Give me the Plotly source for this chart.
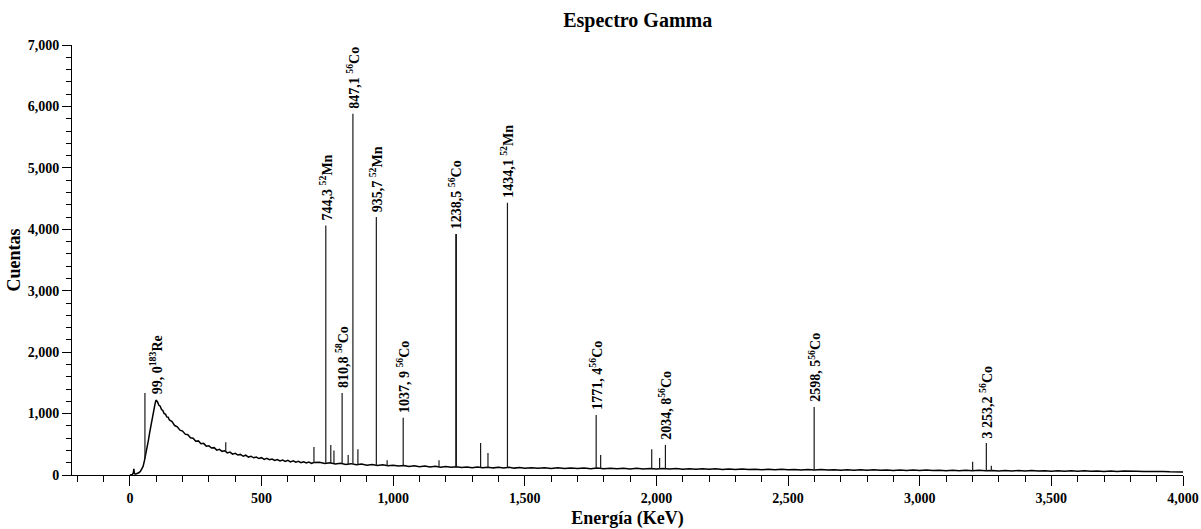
import plotly.graph_objects as go

# ---- continuum ----
cont_energy = [0, 5, 10, 13, 15, 17, 20, 25, 30, 35, 40, 45, 50, 55, 60, 65, 70, 75, 80, 85, 90, 95, 99,
               105, 110, 115, 120, 125, 130, 135, 140, 145, 150, 160, 170, 180, 190, 200, 210, 220, 230,
               240, 250, 260, 270, 280, 290, 300, 310, 320, 330, 340, 350, 360, 370, 380, 390, 400, 410,
               420, 430, 440, 450, 460, 470, 480, 490, 500, 510, 520, 530, 540, 550, 560, 570, 580, 590,
               600, 610, 620, 630, 640, 650, 660, 670, 680, 690, 700,
               720, 740, 760, 780, 800, 820, 840, 860, 880, 900, 920, 940, 960, 980, 1000, 1020, 1040,
               1060, 1080, 1100, 1120, 1140, 1160, 1180, 1200, 1220, 1240, 1260, 1280, 1300, 1320, 1340,
               1360, 1380, 1400, 1420, 1440, 1460, 1480, 1500,
               1525, 1550, 1575, 1600, 1625, 1650, 1675, 1700, 1725, 1750, 1775, 1800, 1825, 1850, 1875,
               1900, 1925, 1950, 1975, 2000, 2025, 2050, 2075, 2100, 2125, 2150, 2175, 2200, 2225, 2250,
               2275, 2300, 2325, 2350, 2375, 2400, 2425, 2450, 2475, 2500, 2525, 2550, 2575, 2600, 2625,
               2650, 2675, 2700, 2725, 2750, 2775, 2800, 2825, 2850, 2875, 2900, 2925, 2950, 2975, 3000,
               3025, 3050, 3075, 3100, 3125, 3150, 3175, 3200, 3225, 3250, 3275, 3300, 3325, 3350, 3375,
               3400, 3425, 3450, 3475, 3500, 3525, 3550, 3575, 3600, 3625, 3650, 3675, 3700, 3725, 3750,
               3775, 3800, 3825, 3850, 3875, 3900, 3925, 3950, 3975, 4000]
cont_counts = [0, 5, 10, 40, 100, 30, 15, 20, 25, 40, 60, 90, 140, 230, 330, 450, 560, 690, 820, 940, 1060, 1150, 1220,
               1190, 1135, 1120, 1065, 1050, 1000, 990, 945, 940, 895, 870, 805, 785, 730, 715, 665, 655, 605,
               600, 550, 555, 510, 515, 470, 475, 440, 445, 405, 418, 385, 395, 360, 372, 340, 352, 325,
               335, 305, 322, 292, 306, 280, 292, 268, 282, 255, 270, 248, 260, 236, 252, 230, 244, 222,
               238, 214, 230, 208, 222, 200, 216, 196, 210, 190, 205,
               208, 188, 200, 180, 192, 172, 185, 166, 178, 160, 172, 155, 166, 150, 160, 145, 155,
               140, 150, 136, 146, 132, 142, 128, 138, 125, 135, 122, 132, 120, 130, 118,
               128, 116, 126, 114, 124, 112, 122, 110,
               120, 108, 118, 106, 116, 105, 114, 104, 113, 103, 112, 102, 110, 100, 109,
               99, 108, 98, 106, 97, 105, 96, 104, 94, 103, 93, 101, 92, 100, 90,
               98, 89, 97, 88, 95, 86, 94, 85, 92, 84, 91, 82, 90, 81, 88,
               80, 87, 79, 86, 78, 85, 77, 84, 76, 83, 75, 82, 74, 81, 73,
               80, 72, 79, 71, 78, 70, 77, 69, 76, 68, 75, 67, 74, 66, 73,
               65, 72, 64, 71, 63, 70, 62, 69, 61, 68, 60, 67, 59, 65, 58,
               64, 57, 62, 56, 60, 54, 58, 52, 56, 50]

# ---- peaks: energy, base counts, top counts ----
peak_energy = [57, 364, 699, 744, 763, 775, 806, 829, 847, 866, 936, 977, 1038, 1174, 1238, 1240,
               1332, 1360, 1434, 1771, 1788, 1982, 2012, 2034, 2599, 3201, 3253, 3272]
peak_base = [270, 380, 200, 195, 192, 190, 188, 180, 175, 170, 160, 155, 150, 130, 125, 125,
             120, 118, 115, 105, 104, 98, 97, 96, 81, 69, 68, 67]
peak_top = [1335, 535, 456, 4060, 490, 400, 1335, 325, 5880, 420, 4200, 240, 930, 240, 3925, 3925,
            520, 360, 4430, 977, 325, 420, 275, 490, 1105, 215, 520, 150]

# ---- labelled peaks ----
label_energy = [99, 744, 806, 847, 936, 1038, 1238, 1434, 1771, 2034, 2599, 3253]
label_counts = [1240, 4060, 1335, 5880, 4200, 930, 3925, 4430, 977, 490, 1105, 520]
label_text = ["99, 0<sup>183</sup>Re", "744,3 <sup>52</sup>Mn", "810,8 <sup>58</sup>Co",
              "847,1 <sup>56</sup>Co", "935,7 <sup>52</sup>Mn", "1037, 9 <sup>56</sup>Co",
              "1238,5 <sup>56</sup>Co", "1434,1 <sup>52</sup>Mn", "1771, 4<sup>56</sup>Co",
              "2034, 8<sup>56</sup>Co", "2598, 5<sup>56</sup>Co", "3 253,2 <sup>56</sup>Co"]

FONT = "Liberation Serif, Times New Roman, serif"

fig = go.Figure()
fig.add_trace(go.Scatter(x=cont_energy, y=cont_counts, mode="lines",
                         line=dict(color="black", width=1.5), hoverinfo="skip", showlegend=False))
px, py = [], []
for e, b, t in zip(peak_energy, peak_base, peak_top):
    px += [e, e, None]
    py += [b, t, None]
fig.add_trace(go.Scatter(x=px, y=py, mode="lines",
                         line=dict(color="#1a1a1a", width=1.2), hoverinfo="skip", showlegend=False))

for e, c, t in zip(label_energy, label_counts, label_text):
    fig.add_annotation(x=e, y=c, text=t, textangle=-90, showarrow=False,
                       xanchor="center", yanchor="bottom", yshift=3,
                       font=dict(family=FONT, size=14, color="black", weight="bold"))

fig.update_layout(
    width=1201, height=529,
    margin=dict(l=72, r=18, t=45, b=54),
    paper_bgcolor="white", plot_bgcolor="white",
    title=dict(text="Espectro Gamma", x=0.531, xanchor="center", y=0.963, yanchor="middle",
               font=dict(family=FONT, size=20, color="black", weight="bold")),
    font=dict(family=FONT, color="black"),
)
fig.update_xaxes(range=[-220, 4000], tick0=0, dtick=500, tickformat=",d", automargin=False,
                 showline=True, linecolor="black", linewidth=1, showgrid=False, zeroline=False,
                 ticks="outside", ticklen=10, tickcolor="black",
                 minor=dict(dtick=100, ticks="outside", ticklen=6, tickcolor="black", showgrid=False),
                 tickfont=dict(family=FONT, size=14, weight="bold"),
                 title=dict(text="Energía (KeV)", standoff=7,
                            font=dict(family=FONT, size=18, weight="bold")))
fig.update_yaxes(range=[0, 7000], tick0=0, dtick=1000, tickformat=",d", automargin=False,
                 showline=True, linecolor="black", linewidth=1, showgrid=False, zeroline=False,
                 ticks="outside", ticklen=9, tickcolor="black",
                 minor=dict(dtick=200, ticks="outside", ticklen=5, tickcolor="black", showgrid=False),
                 tickfont=dict(family=FONT, size=14, weight="bold"),
                 title=dict(text="Cuentas", standoff=2,
                            font=dict(family=FONT, size=18, weight="bold")))

fig.write_html("out.html", config={"displayModeBar": False},
               post_script="document.body.style.margin='0';")
